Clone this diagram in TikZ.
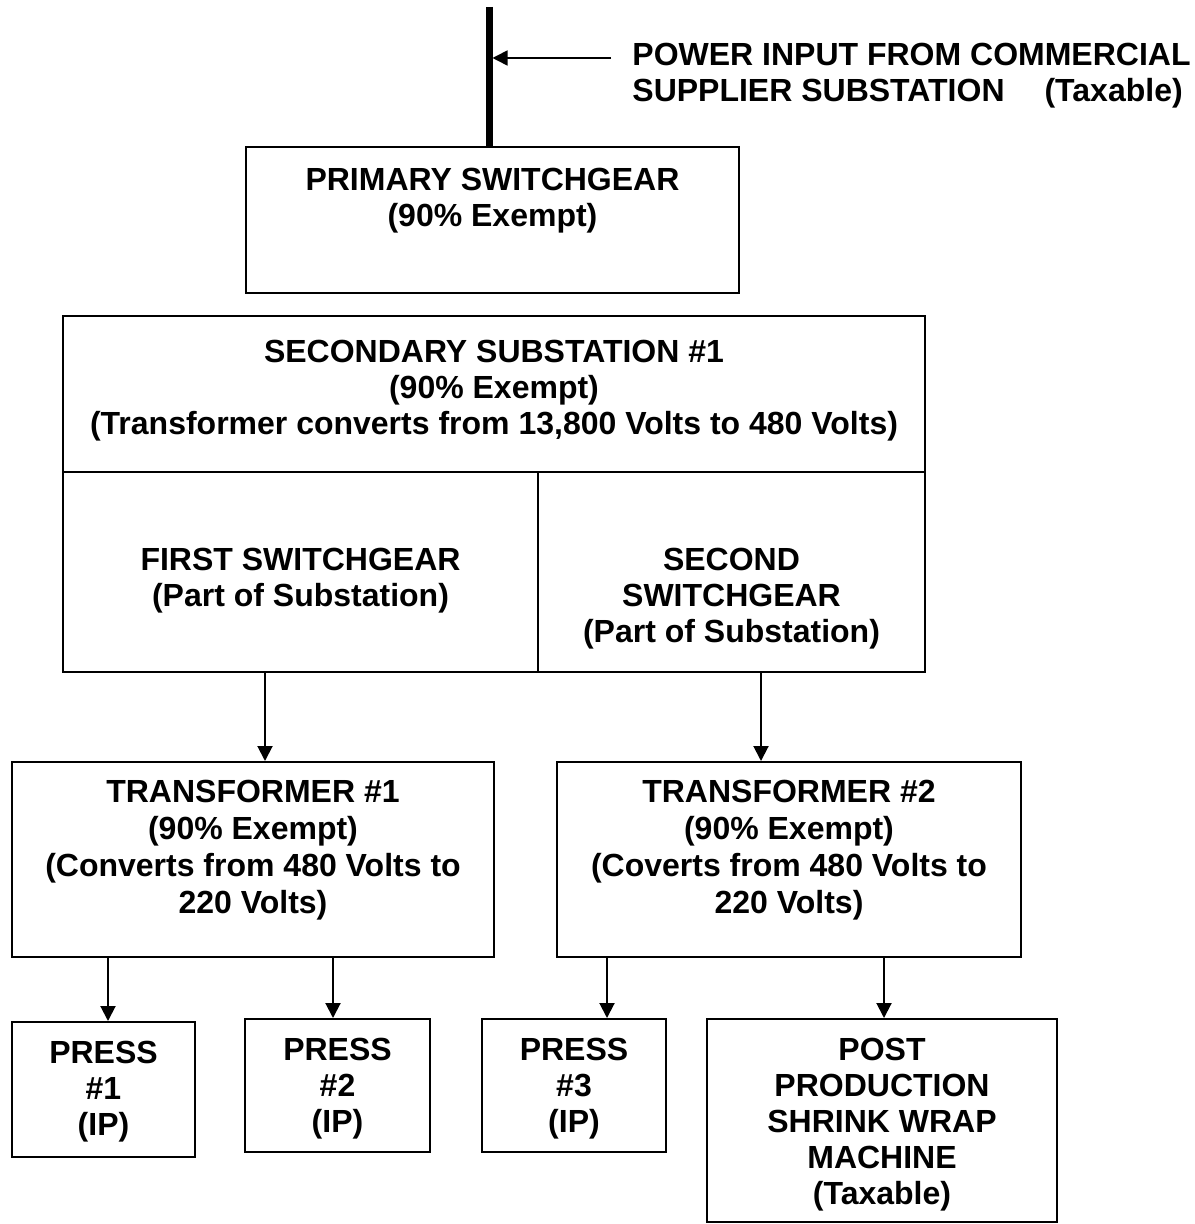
\documentclass[tikz,border=0pt]{standalone}
\usepackage{fontspec}
\setmainfont{Liberation Sans}
\usetikzlibrary{arrows.meta,positioning,fit}
\tikzset{
  box/.style={draw, line width=1pt, inner sep=0pt},
  txt/.style={align=center, inner sep=0pt, font=\fontsize{16}{18}\selectfont\bfseries},
  feed/.style={-{Triangle[width=7.5pt 0,length=7.5pt 0]}, line width=1pt},
  bus/.style={line width=3.5pt},
}
\begin{document}
\begin{tikzpicture}[x=0.5pt, y=-0.5pt, line join=miter]
\useasboundingbox (0,0) rectangle (1194,1224);
% boxes, given by their corners
\node[box, fit={(246,147) (739,293)}] (prim) {};
\node[box, fit={(63,316) (925,472)}] (sec) {};
\node[box, fit={(63,472) (538,672)}] (sw1) {};
\node[box, fit={(538,472) (925,672)}] (sw2) {};
\node[box, fit={(12,762) (494,957)}] (t1) {};
\node[box, fit={(557,762) (1021,957)}] (t2) {};
\node[box, fit={(12,1022) (195,1157)}] (p1) {};
\node[box, fit={(245,1019) (430,1152)}] (p2) {};
\node[box, fit={(482,1019) (666,1152)}] (p3) {};
\node[box, fit={(707,1019) (1057,1222)}] (post) {};

% box texts
\node[txt, below=11pt of prim.north] {PRIMARY SWITCHGEAR\\(90\% Exempt)};
\node[txt, below=12.5pt of sec.north] {SECONDARY SUBSTATION \#1\\(90\% Exempt)\\(Transformer converts from 13,800 Volts to 480 Volts)};
\node[txt, below=38.5pt of sw1.north] {FIRST SWITCHGEAR\\(Part of Substation)};
\node[txt, below=38.5pt of sw2.north] {SECOND\\SWITCHGEAR\\(Part of Substation)};
\node[txt, below=9.5pt of t1.north, font=\fontsize{16}{18.5}\selectfont\bfseries] {TRANSFORMER \#1\\(90\% Exempt)\\(Converts from 480 Volts to\\220 Volts)};
\node[txt, below=9.5pt of t2.north, font=\fontsize{16}{18.5}\selectfont\bfseries] {TRANSFORMER \#2\\(90\% Exempt)\\(Coverts from 480 Volts to\\220 Volts)};
\node[txt, below=10pt of p1.north] {PRESS\\\#1\\(IP)};
\node[txt, below=10pt of p2.north] {PRESS\\\#2\\(IP)};
\node[txt, below=10pt of p3.north] {PRESS\\\#3\\(IP)};
\node[txt, below=10pt of post.north] {POST\\PRODUCTION\\SHRINK WRAP\\MACHINE\\(Taxable)};

% incoming supply
\coordinate (feedtop) at (489,7);
\draw[bus] (feedtop) -- (feedtop |- prim.north);
\node[txt, align=left, anchor=north west] (hdr) at (632,43) {POWER INPUT FROM COMMERCIAL\\SUPPLIER SUBSTATION\hspace{20pt}(Taxable)};
\coordinate (in) at (611,58);
\draw[feed, line width=0.8pt, shorten >=1.75pt] (in) -- (in -| feedtop);

% downstream feeds
\foreach \x/\from/\to in {265/sw1/t1, 761/sw2/t2, 108/t1/p1, 333/t1/p2, 607/t2/p3, 884/t2/post}{
  \coordinate (c) at (\x,0);
  \draw[feed] (\from.south -| c) -- (\to.north -| c);
}
\end{tikzpicture}
\end{document}
